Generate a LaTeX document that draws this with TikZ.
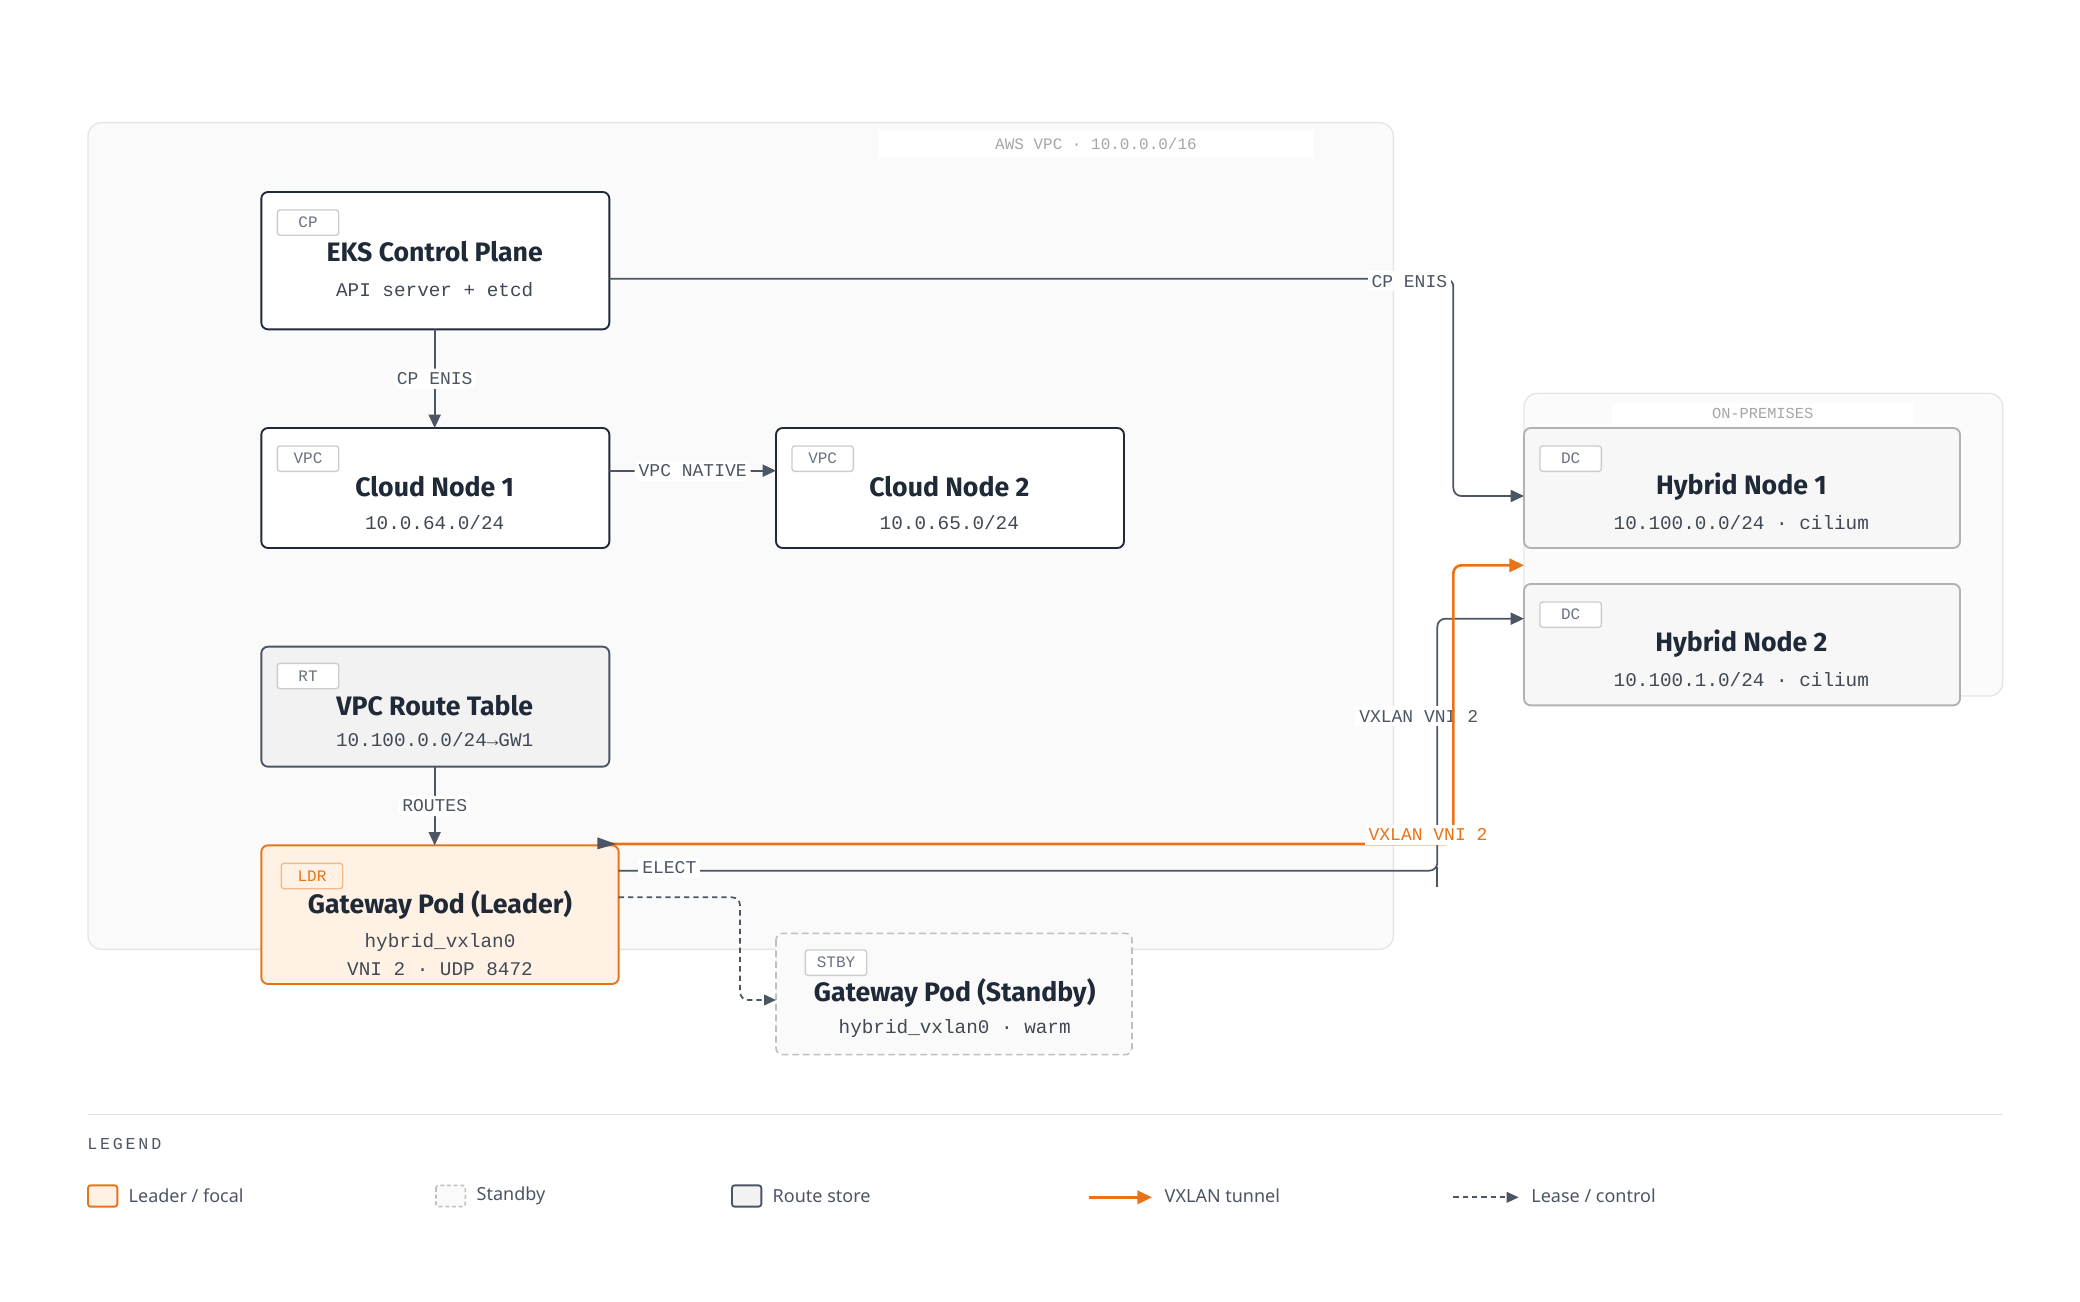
\documentclass[tikz,border=0pt]{standalone}
\usepackage{fontspec}
\setmainfont{Noto Sans}
\newfontfamily\tfont{Fira Sans}
\newfontfamily\mono{Liberation Mono}
\usetikzlibrary{arrows.meta}
\definecolor{ink}{HTML}{1F2937}
\definecolor{edge}{HTML}{4B5563}
\definecolor{org}{HTML}{EA7317}
\definecolor{lg}{HTML}{C9CCD1}
\definecolor{mut}{HTML}{6B7280}
\tikzset{
 x=1pt,y=-1pt,
 box/.style={draw=ink,line width=1.4pt,rounded corners=5pt,fill=white},
 tag/.style={draw=lg,line width=1pt,rounded corners=2pt,fill=white,font=\mono\fontsize{12}{12}\selectfont,text=mut,minimum width=46pt,minimum height=19pt,inner sep=0pt},
 ttl/.style={font=\tfont\bfseries\fontsize{20}{22}\selectfont,text=ink},
 sub/.style={font=\mono\fontsize{14.5}{17}\selectfont,text=ink!85},
 lbl/.style={fill=white,font=\mono\fontsize{13.5}{15}\selectfont,text=edge,inner sep=3pt},
 ar/.style={draw=edge,line width=1.3pt,-{Triangle[length=10pt,width=9pt]},rounded corners=6pt},
 oar/.style={draw=org,line width=2pt,-{Triangle[length=11pt,width=10pt]},rounded corners=6pt},
 dar/.style={draw=edge,line width=1.3pt,dash pattern=on 4pt off 3pt,-{Triangle[length=9pt,width=8pt]},rounded corners=6pt},
 leg/.style={font=\fontsize{13.5}{16}\selectfont,text=edge,anchor=west},
}
\begin{document}
\begin{tikzpicture}
\useasboundingbox (0,0) rectangle (1560,976);
% containers
\draw[draw=black!10,line width=1pt,fill=black!2,rounded corners=10pt] (66,92) rectangle (1045,712);
\node[fill=white,minimum width=326pt,minimum height=19pt,font=\mono\fontsize{12}{12}\selectfont,text=black!35] (awsl) at (822,108) {AWS VPC · 10.0.0.0/16};
\draw[draw=black!10,line width=1pt,fill=black!1.5,rounded corners=10pt] (1143,295) rectangle (1502,522);
\node[fill=white,minimum width=226pt,minimum height=16pt,font=\mono\fontsize{11.5}{12}\selectfont,text=black!35] (onl) at (1322,310) {ON-PREMISES};
% nodes
\draw[box] (196,144) rectangle (457,247);
\node[tag] (t1) at (231,167) {CP};
\node[ttl] (eks) at (326,189) {EKS Control Plane};
\node[sub] (eks2) at (326,217) {API server + etcd};
\coordinate (eksB) at (326,247); \coordinate (eksR) at (457,209);

\draw[box] (196,321) rectangle (457,411);
\node[tag] (t2) at (231,344) {VPC};
\node[ttl] (cn1) at (326,365) {Cloud Node 1};
\node[sub] (cn1s) at (326,392) {10.0.64.0/24};
\coordinate (cn1T) at (326,321); \coordinate (cn1R) at (457,353);

\draw[box] (582,321) rectangle (843,411);
\node[tag] (t3) at (617,344) {VPC};
\node[ttl] (cn2) at (712,365) {Cloud Node 2};
\node[sub] (cn2s) at (712,392) {10.0.65.0/24};
\coordinate (cn2L) at (582,353);

\draw[box,fill=black!5,draw=edge] (196,485) rectangle (457,575);
\node[tag] (t4) at (231,507) {RT};
\node[ttl] (rt) at (326,529) {VPC Route Table};
\node[sub] (rts) at (326,555) {10.100.0.0/24→GW1};
\coordinate (rtB) at (326,575);

\draw[box,draw=org,fill=orange!10] (196,634) rectangle (464,738);
\node[tag,draw=org!50,text=org,fill=orange!10] (t5) at (234,657) {LDR};
\node[ttl] (ldr) at (330,679) {Gateway Pod (Leader)};
\node[sub] (ldr1) at (330,707) {hybrid\_vxlan0};
\node[sub] (ldr2) at (330,727) {VNI 2 · UDP 8472};
\coordinate (ldrT) at (326,634); \coordinate (ldrE) at (464,653);
\coordinate (ldrD) at (464,673); \coordinate (ldrC) at (452,633);

\draw[box,draw=black!25,dash pattern=on 5pt off 3pt,fill=black!2,line width=1.2pt] (582,700) rectangle (849,791);
\node[tag] (t6) at (627,722) {STBY};
\node[ttl] (stb) at (716,745) {Gateway Pod (Standby)};
\node[sub] (stbs) at (716,771) {hybrid\_vxlan0 · warm};
\coordinate (stbL) at (582,750);

\draw[box,draw=black!30,fill=black!3] (1143,321) rectangle (1470,411);
\node[tag] (t7) at (1178,344) {DC};
\node[ttl] (h1) at (1306,365) {Hybrid Node 1};
\node[sub] (h1s) at (1306,392) {10.100.0.0/24 · cilium};
\coordinate (h1L) at (1143,372); \coordinate (h1O) at (1143,424);

\draw[box,draw=black!30,fill=black!3] (1143,438) rectangle (1470,529);
\node[tag] (t8) at (1178,461) {DC};
\node[ttl] (h2) at (1306,483) {Hybrid Node 2};
\node[sub] (h2s) at (1306,510) {10.100.1.0/24 · cilium};
\coordinate (h2L) at (1143,464);

% edges
\draw[ar] (eksB) -- node[lbl]{CP ENIS} (cn1T);
\draw[ar] (cn1R) -- node[lbl,pos=0.5]{VPC NATIVE} (cn2L);
\draw[ar] (eksR) -- (1090,209) -- (1090,372) -- (h1L);
\node[lbl] (lcp) at (1057,211) {CP ENIS};
\draw[ar] (rtB) -- node[lbl]{ROUTES} (ldrT);
\draw[ar] (ldrE) -- (1078,653) -- (1078,464) -- (h2L);
\draw[draw=edge,line width=1.3pt] (1078,650) -- (1078,665);
\node[lbl] (lel) at (502,651) {ELECT};
\node[lbl] (lvx) at (1064,537) {VXLAN VNI 2};
\draw[oar] (ldrC) -- (1090,633) -- (1090,424) -- (h1O);
\fill[edge] (448,628) -- (462,633) -- (448,637) -- cycle;
\node[lbl,text=org] (lvo) at (1071,626) {VXLAN VNI 2};
\draw[dar] (ldrD) -- (555,673) -- (555,750) -- (stbL);

% legend
\draw[black!12,line width=1pt] (66,836) -- (1502,836);
\node[anchor=west,font=\mono\fontsize{12.5}{13}\selectfont,text=edge] (lgt) at (62,858) {L\,E\,G\,E\,N\,D};
\draw[org,line width=1.4pt,fill=orange!10,rounded corners=2pt] (66,889) rectangle (88,905);
\node[leg] (l1) at (93,897) {Leader / focal};
\draw[black!25,line width=1.2pt,dash pattern=on 3pt off 2pt,fill=black!2,rounded corners=2pt] (327,889) rectangle (349,905);
\node[leg] (l2) at (354,897) {Standby};
\draw[edge,line width=1.4pt,fill=black!5,rounded corners=2pt] (549,889) rectangle (571,905);
\node[leg] (l3) at (576,897) {Route store};
\coordinate (a1) at (817,898); \coordinate (a2) at (864,898);
\draw[oar] (a1) -- (a2);
\node[leg] (l4) at (870,897) {VXLAN tunnel};
\coordinate (b1) at (1090,898); \coordinate (b2) at (1139,898);
\draw[dar] (b1) -- (b2);
\node[leg] (l5) at (1145,897) {Lease / control};
\end{tikzpicture}
\end{document}
